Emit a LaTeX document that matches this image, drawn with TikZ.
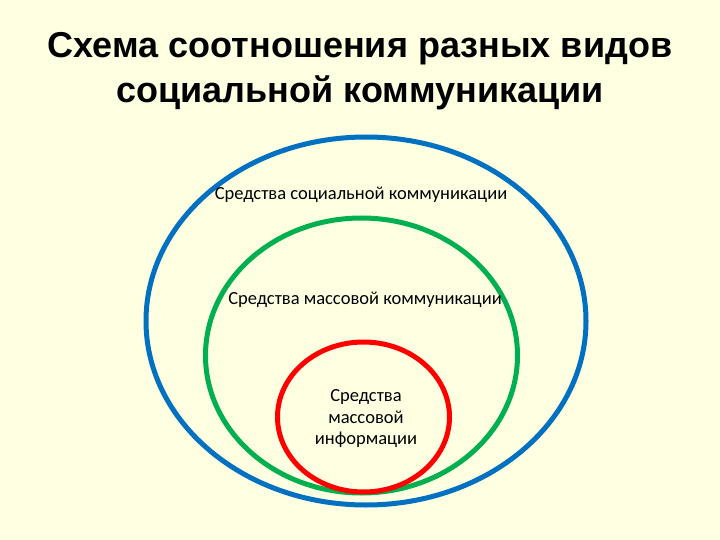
\documentclass[tikz,border=0pt]{standalone}
\usepackage{fontspec}
\setmainfont{Carlito}
\newfontfamily\headfont{Liberation Sans}
\usetikzlibrary{shapes.geometric,positioning}
\definecolor{bgyellow}{RGB}{255,255,226}
\definecolor{ringblue}{RGB}{0,112,192}
\definecolor{ringgreen}{RGB}{0,176,80}
\definecolor{ringred}{RGB}{255,0,0}
\tikzset{
    ring/.style={draw, ellipse, line width=5pt, inner sep=0pt},
    ringtext/.style={font=\fontsize{18.5}{21.5}\selectfont, align=center},
    heading/.style={font=\headfont\bfseries\fontsize{36}{45}\selectfont, align=center}
}

\begin{document}
\begin{tikzpicture}[x=1pt, y=-1pt]
\fill[bgyellow] (0,0) rectangle (720,540);
\useasboundingbox (0,0) rectangle (720,540);

\node[heading] (title) at (360,71) {Схема соотношения разных видов\\социальной коммуникации};

\node[ring, ringblue, minimum width=440pt, minimum height=368pt] (social) at (366,321) {};
\node[ring, ringgreen, minimum width=312pt, minimum height=275pt] (mass) at (361.5,355.5) {};
\node[ring, ringred, minimum width=172pt, minimum height=150pt] (media) at (363.5,417) {};

\node[ringtext] (socialtext) at (361,195) {Средства социальной коммуникации};
\node[ringtext] (masstext) at (365,300) {Средства массовой коммуникации};
\node[ringtext] (mediatext) at (366,419) {Средства\\массовой\\информации};
\end{tikzpicture}
\end{document}
